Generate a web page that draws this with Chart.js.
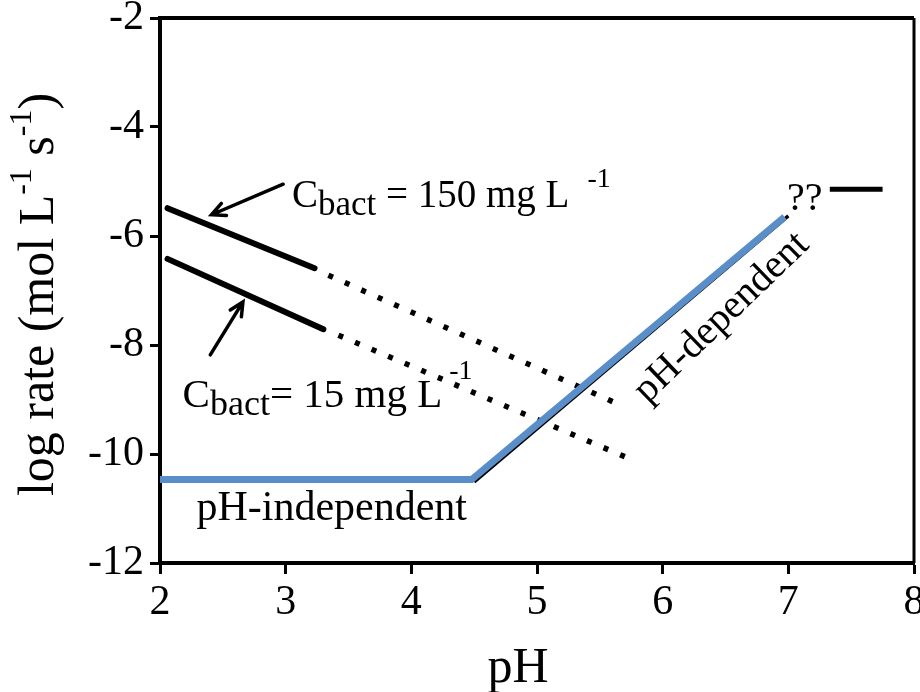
<!DOCTYPE html>
<html>
<head>
<meta charset="utf-8">
<script src="https://cdn.jsdelivr.net/npm/chart.js"></script>
<style>
  html, body { margin: 0; padding: 0; background: #fff; }
  #wrap { width: 920px; height: 692px; }
</style>
</head>
<body>
<div id="wrap"><canvas id="rateChart" width="920" height="692"></canvas></div>
<script>
// pH axis ticks and log-rate axis ticks
const phTicks = [2, 3, 4, 5, 6, 7, 8];
const rateTicks = [-2, -4, -6, -8, -10, -12];

// abiotic dissolution rate: flat below pH 4.5, rising above
const abioticPh = [2, 4.48, 6.97];
const abioticRate = [-10.47, -10.47, -5.65];
const dependentPh = [4.5, 7.0];
const dependentRate = [-10.51, -5.63];

// bacteria-promoted rates, measured (solid) and extrapolated (dotted)
const high150Ph = [2.06, 3.23];
const high150Rate = [-5.49, -6.59];
const high150ExtPh = [3.34, 5.68];
const high150ExtRate = [-6.72, -9.12];
const low15Ph = [2.06, 3.3];
const low15Rate = [-6.42, -7.71];
const low15ExtPh = [3.42, 5.7];
const low15ExtRate = [-7.82, -10.05];

// unknown rate beyond pH 7
const unknownPh = [7.33, 7.75];
const unknownRate = [-5.14, -5.14];

const SERIF = '"Liberation Serif", "Times New Roman", serif';

const pts = (xs, ys) => xs.map((x, i) => ({ x: x, y: ys[i] }));

function line(xs, ys, color, width, extra) {
  return Object.assign({
    data: pts(xs, ys),
    showLine: true,
    borderColor: color,
    borderWidth: width,
    pointRadius: 0,
    fill: false,
    tension: 0
  }, extra || {});
}

// draws a row of text pieces with their own size and vertical shift
function drawRuns(ctx, x, y, runs, align) {
  let total = 0;
  runs.forEach(r => {
    ctx.font = r.size + 'px ' + SERIF;
    r.w = ctx.measureText(r.t).width + (r.gap || 0);
    total += r.w;
  });
  let cx = align === 'center' ? x - total / 2 : x;
  ctx.textAlign = 'left';
  ctx.textBaseline = 'alphabetic';
  runs.forEach(r => {
    ctx.font = r.size + 'px ' + SERIF;
    ctx.fillText(r.t, cx + (r.gap || 0), y + (r.dy || 0));
    cx += r.w;
  });
}

function arrow(ctx, x1, y1, x2, y2) {
  const a = Math.atan2(y2 - y1, x2 - x1);
  const len = 15, spread = 0.45;
  ctx.beginPath();
  ctx.moveTo(x1, y1);
  ctx.lineTo(x2, y2);
  ctx.moveTo(x2 - len * Math.cos(a - spread), y2 - len * Math.sin(a - spread));
  ctx.lineTo(x2, y2);
  ctx.lineTo(x2 - len * Math.cos(a + spread), y2 - len * Math.sin(a + spread));
  ctx.stroke();
}

const labelsPlugin = {
  id: 'labels',
  afterDraw(chart) {
    const { ctx, chartArea: a, scales: { x, y } } = chart;
    const px = v => x.getPixelForValue(v);
    const py = v => y.getPixelForValue(v);
    ctx.save();

    // frame on top and right
    ctx.strokeStyle = '#000';
    ctx.lineWidth = 4;
    ctx.beginPath();
    ctx.moveTo(a.left - 2, a.top);
    ctx.lineTo(a.right, a.top);
    ctx.stroke();
    ctx.lineWidth = 3;
    ctx.beginPath();
    ctx.moveTo(a.right, a.top);
    ctx.lineTo(a.right, a.bottom);
    ctx.stroke();

    ctx.fillStyle = '#000';

    // axis titles
    drawRuns(ctx, 518, 682, [{ t: 'pH', size: 50 }], 'center');
    ctx.save();
    ctx.translate(53, (a.top + a.bottom) / 2 + 4);
    ctx.rotate(-Math.PI / 2);
    drawRuns(ctx, 0, 0, [
      { t: 'log rate (mol L', size: 50 },
      { t: '-1', size: 32, dy: -22 },
      { t: ' s', size: 50 },
      { t: '-1', size: 32, dy: -22 },
      { t: ')', size: 50 }
    ], 'center');
    ctx.restore();

    // concentration labels
    drawRuns(ctx, px(3.05), py(-5.47), [
      { t: 'C', size: 39 },
      { t: 'bact', size: 35, dy: 8 },
      { t: ' = 150 mg L', size: 39 },
      { t: '-1', size: 28, dy: -20, gap: 18 }
    ]);
    drawRuns(ctx, px(2.18), py(-9.14), [
      { t: 'C', size: 41 },
      { t: 'bact', size: 36, dy: 8 },
      { t: '= 15 mg L', size: 41 },
      { t: '-1', size: 28, dy: -28, gap: 7 }
    ]);

    drawRuns(ctx, px(2.29), py(-11.21), [{ t: 'pH-independent', size: 42 }]);
    drawRuns(ctx, px(6.99), py(-5.52), [{ t: '??', size: 40 }]);

    ctx.save();
    ctx.translate(px(6.47), py(-7.5));
    ctx.rotate(-44 * Math.PI / 180);
    ctx.font = '40px ' + SERIF;
    ctx.textAlign = 'center';
    ctx.textBaseline = 'middle';
    ctx.fillText('pH-dependent', 0, 0);
    ctx.restore();

    // arrows pointing at the two bacterial curves
    ctx.strokeStyle = '#000';
    ctx.lineWidth = 3.5;
    ctx.lineCap = 'round';
    arrow(ctx, px(2.98), py(-5.05), px(2.41), py(-5.61));
    arrow(ctx, px(2.4), py(-8.18), px(2.66), py(-7.21));

    ctx.restore();
  }
};

new Chart(document.getElementById('rateChart'), {
  type: 'scatter',
  data: {
    datasets: [
      line(abioticPh, abioticRate, '#5a8ec8', 7, { order: 0 }),
      line(dependentPh, dependentRate, '#000', 3.5, { order: 1 }),
      line(high150Ph, high150Rate, '#000', 6, { borderCapStyle: 'round', order: 2 }),
      line(high150ExtPh, high150ExtRate, '#000', 5.5, { borderDash: [5, 13], order: 2 }),
      line(low15Ph, low15Rate, '#000', 6, { borderCapStyle: 'round', order: 2 }),
      line(low15ExtPh, low15ExtRate, '#000', 5.5, { borderDash: [5, 13], order: 2 }),
      line(unknownPh, unknownRate, '#000', 5, { order: 2 })
    ]
  },
  options: {
    responsive: false,
    animation: false,
    events: [],
    layout: { padding: { top: 18, right: 6, left: 0, bottom: 0 } },
    plugins: {
      legend: { display: false },
      tooltip: { enabled: false }
    },
    scales: {
      x: {
        type: 'linear',
        min: phTicks[0],
        max: phTicks[phTicks.length - 1],
        afterBuildTicks: s => { s.ticks = phTicks.map(v => ({ value: v })); },
        afterFit: s => { s.height = 129; s.paddingLeft = 0; s.paddingRight = 0; },
        grid: { drawOnChartArea: false, drawTicks: true, tickLength: 11, tickWidth: 3, tickColor: '#000' },
        border: { display: true, color: '#000', width: 4 },
        ticks: { color: '#000', padding: 4, font: { family: SERIF, size: 42 }, maxRotation: 0, autoSkip: false }
      },
      y: {
        type: 'linear',
        min: rateTicks[rateTicks.length - 1],
        max: rateTicks[0],
        afterBuildTicks: s => { s.ticks = rateTicks.map(v => ({ value: v })); },
        afterFit: s => { s.width = 160; s.paddingTop = 0; s.paddingBottom = 0; },
        grid: { drawOnChartArea: false, drawTicks: true, tickLength: 10, tickWidth: 3, tickColor: '#000' },
        border: { display: true, color: '#000', width: 4 },
        ticks: { color: '#000', padding: 6, font: { family: SERIF, size: 42 }, autoSkip: false }
      }
    }
  },
  plugins: [labelsPlugin]
});
</script>
</body>
</html>
